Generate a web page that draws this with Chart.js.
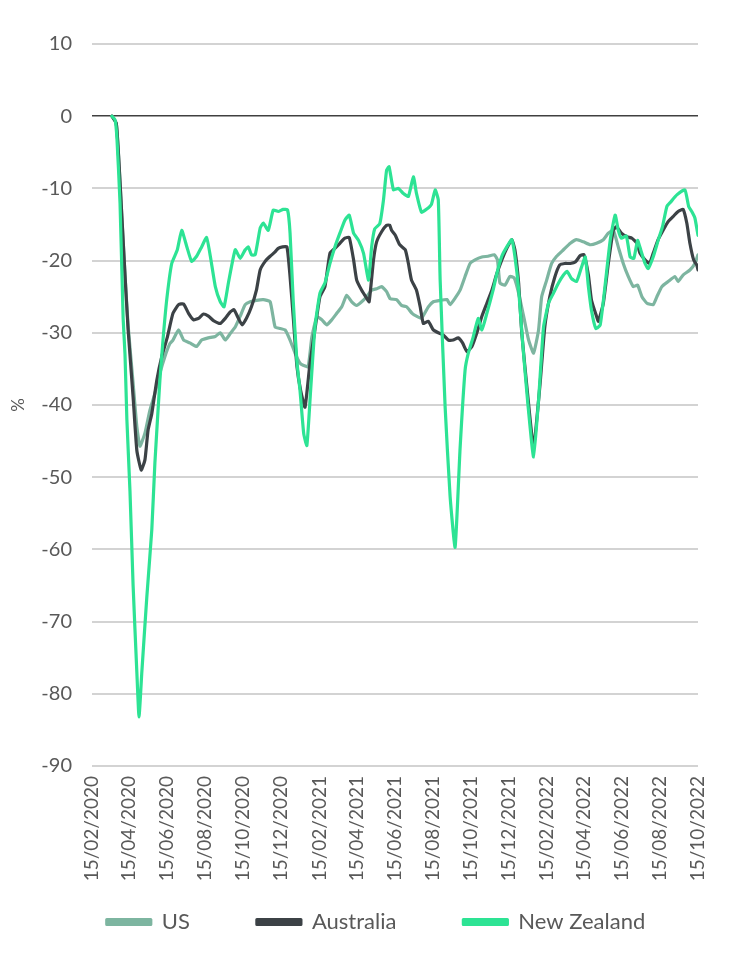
<!DOCTYPE html>
<html>
<head>
<meta charset="utf-8">
<script src="https://cdn.jsdelivr.net/npm/chart.js@4.4.1/dist/chart.umd.min.js"></script>
<style>
  html, body { margin: 0; padding: 0; background: #ffffff; }
  #wrap { width: 740px; height: 967px; position: relative; }
</style>
</head>
<body>
<div id="wrap"><canvas id="c"></canvas></div>
<script>
// ---- Data (x values are days since 15/02/2020) ----
const seriesNames = ['US', 'Australia', 'New Zealand'];

const tickLabels = ['15/02/2020','15/04/2020','15/06/2020','15/08/2020','15/10/2020','15/12/2020',
  '15/02/2021','15/04/2021','15/06/2021','15/08/2021','15/10/2021','15/12/2021',
  '15/02/2022','15/04/2022','15/06/2022','15/08/2022','15/10/2022'];

const yTicks = [10, 0, -10, -20, -30, -40, -50, -60, -70, -80, -90];

const usDays = [32,39,43,48,53,58,66,72,77,85,93,101,109,117,125,130,139,147,157,168,176,187,198,206,214,222,230,238,246,254,264,275,286,294,302,310,318,326,334,339,347,353,361,369,377,385,393,401,409,417,425,433,441,449,457,465,473,479,489,497,505,514,521,529,540,548,559,570,575,583,591,599,607,615,626,636,646,651,655,663,671,678,685,693,701,709,717,722,730,738,746,757,768,778,789,800,810,821,829,837,845,853,861,869,876,883,891,901,907,915,925,936,941,949,960,968,973];
const usValues = [0,-1,-6,-14,-22,-29,-37,-43,-45.7,-43.9,-40.7,-38.4,-35.6,-33.3,-31.5,-31,-29.6,-31,-31.4,-31.9,-31,-30.7,-30.5,-30,-31,-30.1,-29.2,-27.7,-26.1,-25.7,-25.5,-25.4,-25.7,-29.2,-29.4,-29.6,-31,-32.8,-34.2,-34.5,-34.7,-30.6,-27.8,-28.2,-28.9,-28.2,-27.3,-26.4,-24.8,-25.7,-26.2,-25.7,-25,-24.1,-23.9,-23.6,-24.3,-25.3,-25.4,-26.2,-26.4,-27.3,-27.7,-28,-26.4,-25.7,-25.5,-25.4,-26.1,-25.2,-24.1,-22.2,-20.4,-19.9,-19.5,-19.4,-19.2,-19.9,-23.1,-23.4,-22.2,-22.4,-24.5,-27.7,-31,-32.8,-29.6,-25,-22.7,-20.4,-19.4,-18.5,-17.6,-17.1,-17.4,-17.8,-17.6,-17.1,-16.2,-15.8,-18.1,-20.4,-22.2,-23.6,-23.4,-25,-25.9,-26.1,-25,-23.6,-22.9,-22.2,-22.9,-22,-21.3,-20.4,-19.2];

const auDays = [32,39,43,48,53,58,66,72,79,85,90,96,104,112,121,130,139,147,155,163,171,179,187,195,206,214,222,228,235,241,248,256,264,270,278,286,294,299,306,313,318,323,329,335,342,350,358,366,374,382,390,398,406,413,420,425,433,441,445,452,457,465,473,478,481,487,494,503,508,513,521,527,532,540,548,556,564,572,580,588,595,602,610,618,626,634,642,650,658,666,674,679,685,690,700,709,719,727,735,743,751,759,768,776,784,790,797,802,810,813,821,829,837,842,850,859,867,875,880,888,895,901,909,917,925,933,941,949,955,960,966,971,973];
const auValues = [0,-1,-6,-14,-22,-29.6,-38.9,-46.3,-49,-47.6,-43.5,-41.2,-36.6,-33.3,-30.6,-27.3,-26.1,-26,-27.3,-28.2,-28,-27.4,-27.7,-28.3,-28.7,-28,-27.1,-26.8,-28,-28.9,-28,-26.4,-24.1,-21.3,-20.1,-19.4,-18.8,-18.3,-18.1,-18.1,-22.2,-27.7,-34.6,-38,-40.3,-34.2,-29.5,-25,-23.6,-19,-18.3,-17.6,-16.9,-16.8,-19.9,-22.7,-24.1,-25.2,-25.7,-19.9,-17.4,-16,-15.1,-15.1,-15.8,-16.5,-17.8,-18.5,-20.4,-22.7,-24.1,-26.4,-28.7,-28.4,-29.6,-30,-30.3,-31,-31,-30.7,-31.4,-32.6,-31.9,-30,-27.7,-25.9,-24.1,-21.8,-19.9,-18.3,-17.1,-18.5,-23.1,-30,-39,-45.8,-37.5,-29.2,-25,-22.3,-20.6,-20.4,-20.4,-20.2,-19.3,-19.2,-22,-25.5,-27.7,-28.4,-25.9,-20.4,-15.8,-15.3,-16.2,-16.7,-16.9,-17.6,-19,-19.9,-20.4,-19,-17.1,-15.8,-14.6,-13.9,-13.2,-12.9,-14.8,-17.6,-19.9,-20.6,-21.3];

const nzDays = [32,37,40,45,50,53,56,61,66,72,75.5,80,88,96,101,109,114,120,128,137,144,152,160,168,176,184,190,198,206,212,219,230,238,246,251,256,262,270,275,283,291,299,307,314,318,323,329,334,340,345,351,358,366,374,382,390,398,406,413,420,428,436,444,449,454,462,468,473,477,484,492,500,508,516,521,529,537,545,551,556,559,567,575,583,591,599,604,612,620,626,634,644,650,658,666,674,679,685,692,700,709,717,725,733,741,749,757,763,770,778,786,792,797,802,809,816,824,832,840,845,850,858,864,870,876,881,888,893,901,909,916,923,929,939,952,958,963,968,973];
const nzValues = [0,-0.5,-3,-12,-28,-33,-42,-52,-65,-77,-83.2,-77,-66.6,-57.3,-48,-36.6,-31,-25.4,-20.4,-18.5,-15.8,-18,-20.1,-19.4,-18.1,-16.8,-19.4,-23.6,-25.7,-26.4,-23.1,-18.5,-19.7,-18.5,-18.1,-19.2,-19.2,-15.5,-14.8,-15.8,-13,-13.2,-12.9,-13,-16.2,-25.4,-34,-38,-44,-45.6,-38,-29.2,-24.5,-23.1,-20.4,-18.1,-16.2,-14.4,-13.7,-16.2,-17.2,-19,-22.7,-18.1,-15.6,-14.9,-11.6,-7.5,-7,-10.2,-10,-10.7,-11.1,-8.4,-10.7,-13.3,-12.9,-12.2,-10.2,-11.6,-22.7,-40.3,-52.7,-59.7,-46,-35.2,-32.9,-30.6,-28,-29.6,-27.3,-24.1,-21.8,-19.4,-18.1,-17.1,-19.4,-24,-32,-40,-47.2,-39.3,-29.2,-25.9,-24.5,-23.1,-22,-21.5,-22.5,-22.9,-20.9,-19.5,-23.6,-26.9,-29.4,-28.9,-23.3,-17.2,-13.7,-15.8,-16.9,-16.6,-19.5,-19.7,-17.2,-18.5,-20.4,-21.1,-19.5,-17.2,-15.3,-12.5,-11.9,-10.9,-10.2,-12.5,-13.2,-14.1,-16.5];

// ---- helpers ----
function dayOffset(label) {
  const [d, m, y] = label.split('/').map(Number);
  const base = Date.UTC(2020, 1, 15);
  return Math.round((Date.UTC(y, m - 1, d) - base) / 86400000);
}
const tickDays = tickLabels.map(dayOffset);
const toPoints = (xs, ys) => xs.map((x, i) => ({ x: x, y: ys[i] }));

const FONT = 'Lato, "Open Sans", sans-serif';
const TXT = '#595959';

// nudge the legend block to match the reference placement
const legendShift = {
  id: 'legendShift',
  afterLayout(chart) {
    const dx = 27, dy = -45;
    chart.legend.left += dx;
    chart.legend.right += dx;
    chart.legend.top += dy;
    chart.legend.bottom += dy;
  }
};

new Chart(document.getElementById('c'), {
  type: 'line',
  data: {
    datasets: [
      { label: seriesNames[0], data: toPoints(usDays, usValues), borderColor: '#7db5a0', backgroundColor: '#7db5a0', order: 3 },
      { label: seriesNames[1], data: toPoints(auDays, auValues), borderColor: '#3c4246', backgroundColor: '#3c4246', order: 2 },
      { label: seriesNames[2], data: toPoints(nzDays, nzValues), borderColor: '#2de394', backgroundColor: '#2de394', order: 1 }
    ]
  },
  options: {
    responsive: true,
    maintainAspectRatio: false,
    animation: false,
    elements: {
      point: { radius: 0 },
      line: { borderWidth: 3.2, tension: 0.15, borderJoinStyle: 'round', borderCapStyle: 'round' }
    },
    layout: { padding: { top: 44, right: 42, bottom: -21, left: 0 } },
    plugins: {
      legend: {
        position: 'bottom',
        labels: {
          boxWidth: 44, boxHeight: 5, padding: 67,
          color: TXT, font: { family: FONT, size: 22 },
          sort: (a, b) => a.datasetIndex - b.datasetIndex
        }
      },
      tooltip: { enabled: false }
    },
    scales: {
      x: {
        type: 'linear',
        min: tickDays[0],
        max: tickDays[tickDays.length - 1],
        afterBuildTicks(scale) { scale.ticks = tickDays.map(v => ({ value: v })); },
        afterFit(scale) { scale.height = 123; },
        ticks: {
          autoSkip: false, maxRotation: 90, minRotation: 90, padding: 10,
          color: TXT, font: { family: FONT, size: 19 },
          callback(value) { const i = tickDays.indexOf(value); return i >= 0 ? tickLabels[i] : ''; }
        },
        grid: { display: false, drawTicks: false },
        border: { display: false }
      },
      y: {
        min: -90, max: 10,
        afterBuildTicks(scale) { scale.ticks = yTicks.map(v => ({ value: v })); },
        afterFit(scale) { scale.width = 92; },
        ticks: { padding: 20, color: TXT, font: { family: FONT, size: 20 } },
        title: { display: true, text: '%', color: TXT, font: { family: FONT, size: 17 }, padding: { top: 8, bottom: 0 } },
        grid: {
          drawTicks: false,
          color: ctx => (ctx.tick && ctx.tick.value === 0) ? '#404040' : '#d3d3d3',
          lineWidth: ctx => (ctx.tick && ctx.tick.value === 0) ? 1.5 : 2
        },
        border: { display: false }
      }
    }
  },
  plugins: [legendShift]
});
</script>
</body>
</html>
